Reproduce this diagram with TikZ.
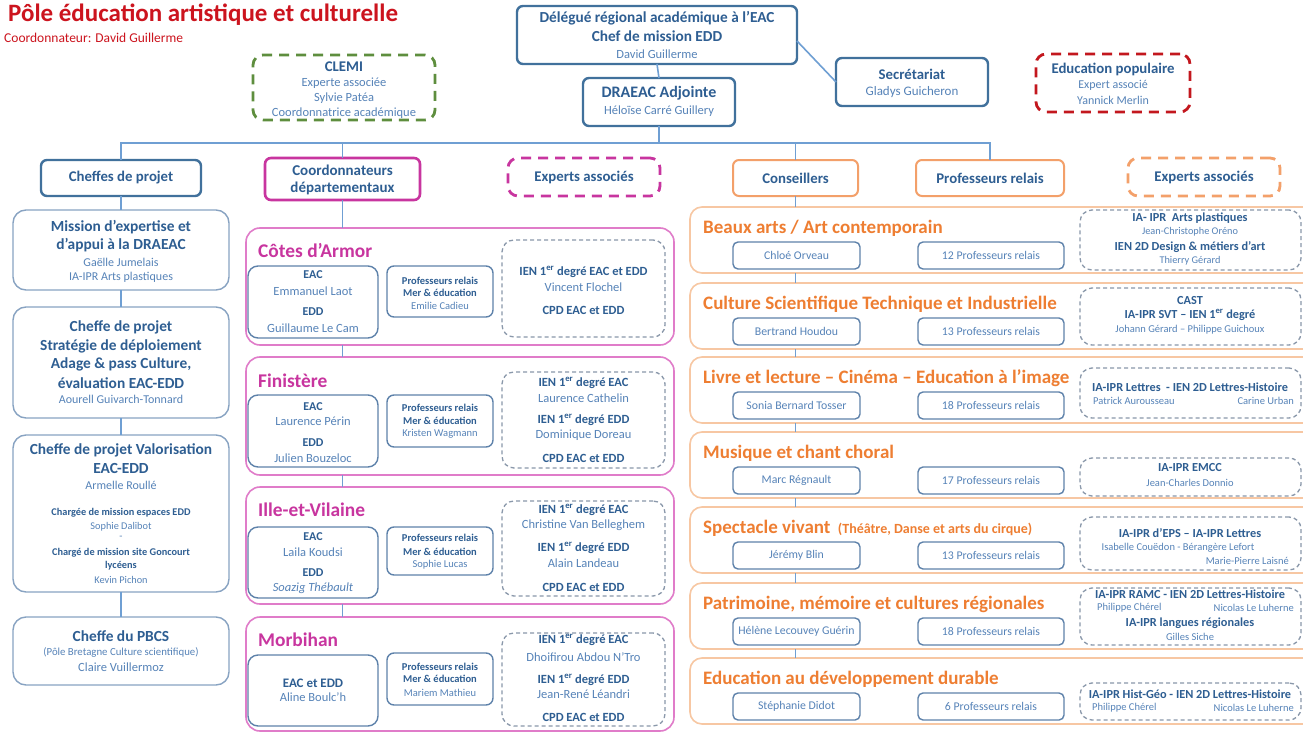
\documentclass[tikz,border=0pt]{standalone}
\usepackage{fontspec}
\setmainfont{Carlito}
\definecolor{tred}{HTML}{CC141E}
\definecolor{tblue}{HTML}{2E5E92}
\definecolor{nblue}{HTML}{5683B8}
\definecolor{bdark}{HTML}{41719C}
\definecolor{bmid}{HTML}{5E82AA}
\definecolor{blight}{HTML}{88A3C2}
\definecolor{cline}{HTML}{6F9FD3}
\definecolor{mag}{HTML}{C8359F}
\definecolor{magl}{HTML}{E07CC9}
\definecolor{oran}{HTML}{EE7E32}
\definecolor{oranh}{HTML}{F3A06A}
\definecolor{oranl}{HTML}{F7C7A3}
\definecolor{gdash}{HTML}{5E8E3E}
\definecolor{rdash}{HTML}{C3171E}
\definecolor{dgray}{HTML}{8A98AA}
\newcommand\fs[1]{\fontsize{#1}{#1}\selectfont}
\newcounter{tn}
\newcommand\T[3]{\stepcounter{tn}\node[inner sep=0pt,#1] (t\arabic{tn}) at (#2) {#3};}
\newcommand\bx[6]{\node[#2, anchor=north west, outer sep=0pt, inner sep=0pt, minimum width={(#5)-(#3)}, minimum height={(#6)-(#4)}] (#1) at (#3,#4) {};}
\newcommand\rsec[5]{%
 \bx{#1}{osec}{690}{#2}{1318}{#2+66}
 \T{ot}{703,#2+21}{#3}
 \bx{#1p}{nbox}{733}{#2+35}{860}{#2+62}
 \T{tn=11.8}{796.5,#2+48.5}{#4}
 \bx{#1r}{nbox}{918}{#2+35}{1064}{#2+62}
 \T{tn=11.8}{991,#2+48.5}{#5}
}
\newcommand\er{\textsuperscript{er}}
\begin{document}
\begin{tikzpicture}[x=1pt,y=-1pt,
 tb/.style={font={\fs{#1}\bfseries},text=tblue},
 tn/.style={font={\fs{#1}},text=nblue},
 hdr/.style={draw=bdark, line width=2.4pt, rounded corners=6pt, fill=white},
 lbox/.style={draw=blight, line width=1.4pt, rounded corners=13pt, fill=white},
 maghdr/.style={draw=mag, line width=2.6pt, rounded corners=6pt},
 magsec/.style={draw=magl, line width=1.6pt, rounded corners=14pt},
 ibox/.style={draw=bmid, line width=1.4pt, rounded corners=10pt},
 pbox/.style={draw=bmid, line width=1.4pt, rounded corners=7pt},
 nbox/.style={draw=bmid, line width=1.4pt, rounded corners=5pt},
 gdsh/.style={draw=dgray, line width=1.3pt, dash pattern=on 4pt off 3pt, rounded corners=12pt},
 bigdash/.style={line width=2.8pt, dash pattern=on 10pt off 7pt, rounded corners=10pt},
 ohdr/.style={draw=oranh, line width=2pt, rounded corners=6pt},
 osec/.style={draw=oranl, line width=1.6pt, rounded corners=12pt},
 conn/.style={draw=cline, line width=1.6pt},
 mt/.style={font={\fs{19.4}\bfseries}, text=mag, anchor=west},
 ot/.style={font={\fs{19}\bfseries}, text=oran, anchor=west}]
\clip (0,0) rectangle (1303,733);
\fill[white] (0,0) rectangle (1303,733);
% ---------- title
\T{anchor=west, font={\fs{25}\bfseries}, text=tred}{8,15}{Pôle éducation artistique et culturelle}
\T{anchor=west, font={\fs{13.5}}, text=tred}{4,38}{Coordonnateur: David Guillerme}
% ---------- top
\bx{clemi}{bigdash, draw=gdash}{253}{55}{435}{120}
\T{tb=14.8}{344,67}{CLEMI}
\T{tn=12.5}{344,83}{Experte associée}
\T{tn=12.5}{344,98}{Sylvie Patéa}
\T{tn=12.5}{344,113}{Coordonnatrice académique}
\bx{dra}{hdr}{517}{6}{797}{64}
\T{tb=15.3}{657,18}{Délégué régional académique à l’EAC}
\T{tb=15.3}{657,36}{Chef de mission EDD}
\T{tn=12.5}{657,54}{David Guillerme}
\bx{adj}{hdr}{583}{78}{735}{126}
\T{tb=16}{659,93}{DRAEAC Adjointe}
\T{tn=12.5}{659,111}{Héloïse Carré Guillery}
\bx{sec}{hdr}{836}{58}{988}{106}
\T{tb=14.8}{912,74}{Secrétariat}
\T{tn=13}{912,92}{Gladys Guicheron}
\bx{edpop}{bigdash, draw=rdash}{1036}{54}{1190}{112}
\T{tb=14.8}{1113,69}{Education populaire}
\T{tn=12}{1113,85}{Expert associé}
\T{tn=12}{1113,100}{Yannick Merlin}
% ---------- headers
\coordinate (busy) at (0,143);
\bx{cp}{hdr}{41}{160}{201}{196}
\T{tb=14.8}{121,178}{Cheffes de projet}
\bx{coordh}{maghdr}{265}{158}{420}{200}
\T{tb=15}{342.5,170}{Coordonnateurs}
\T{tb=15}{342.5,188}{départementaux}
\bx{exph}{bigdash, draw=mag}{508}{158}{660}{196}
\T{tb=14.8}{584,177}{Experts associés}
\bx{consh}{ohdr}{733}{160}{858}{196}
\T{tb=14.8}{795.5,178}{Conseillers}
\bx{profh}{ohdr}{916}{160}{1064}{196}
\T{tb=14.8}{990,178}{Professeurs relais}
\bx{exph2}{bigdash, draw=oranh}{1128}{158}{1280}{196}
\T{tb=14.8}{1204,177}{Experts associés}
% ---------- left column
\bx{m1}{lbox}{13}{210}{229}{290}
\T{tb=15.4}{121,227}{Mission d’expertise et}
\T{tb=15.4}{121,245}{d’appui à la DRAEAC}
\T{tn=12}{121,262}{Gaëlle Jumelais}
\T{tn=12}{121,277}{IA-IPR Arts plastiques}
\bx{m2}{lbox}{13}{307}{229}{418}
\T{tb=15.4}{121,327}{Cheffe de projet}
\T{tb=15.4}{121,346}{Stratégie de déploiement}
\T{tb=15.4}{121,364}{Adage \& pass Culture,}
\T{tb=15.4}{121,383}{évaluation EAC-EDD}
\T{tn=12}{121,399}{Aourell Guivarch-Tonnard}
\bx{m3}{lbox}{13}{435}{229}{592}
\T{tb=15.4}{121,450}{Cheffe de projet Valorisation}
\T{tb=15.4}{121,468}{EAC-EDD}
\T{tn=12}{121,485}{Armelle Roullé}
\T{tb=10.3}{121,513}{Chargée de mission espaces EDD}
\T{tn=10.3}{121,527}{Sophie Dalibot}
\T{tn=10.3}{121,538}{-}
\T{tb=10.3}{121,553}{Chargé de mission site Goncourt}
\T{tb=10.3}{121,566}{lycéens}
\T{tn=10.3}{121,580}{Kevin Pichon}
\bx{m4}{lbox}{13}{617}{229}{685}
\T{tb=15.4}{121,636}{Cheffe du PBCS}
\T{tn=10.8}{121,652}{(Pôle Bretagne Culture scientifique)}
\T{tn=12.5}{121,667}{Claire Vuillermoz}
% ---------- middle column: Côtes d'Armor
\bx{d1}{magsec}{246}{228}{674}{345}
\T{mt}{258,251}{Côtes d’Armor}
\bx{d1e}{ibox}{248}{266}{378}{338}
\T{tb=12}{313,275}{EAC}
\T{tn=12.5}{313,291}{Emmanuel Laot}
\T{tb=12}{313,312}{EDD}
\T{tn=12.5}{313,328}{Guillaume Le Cam}
\bx{d1p}{pbox}{387}{266}{493}{317}
\T{tb=10.5}{440,281}{Professeurs relais}
\T{tb=10.5}{440,293}{Mer \& éducation}
\T{tn=10.5}{440,306}{Emilie Cadieu}
\bx{d1x}{gdsh}{502}{240}{665}{337}
\T{tb=12.5}{583.5,272}{IEN 1\er{} degré EAC et EDD}
\T{tn=12.5}{583.5,287}{Vincent Flochel}
\T{tb=12.5}{583.5,310}{CPD EAC et EDD}
% Finistère
\bx{d2}{magsec}{246}{357}{674}{475}
\T{mt}{258,381}{Finistère}
\bx{d2e}{ibox}{248}{395}{378}{467}
\T{tb=12}{313,407}{EAC}
\T{tn=12.5}{313,421}{Laurence Périn}
\T{tb=12}{313,443}{EDD}
\T{tn=12.5}{313,458}{Julien Bouzeloc}
\bx{d2p}{pbox}{387}{395}{493}{447}
\T{tb=10.5}{440,408}{Professeurs relais}
\T{tb=10.5}{440,421}{Mer \& éducation}
\T{tn=10.5}{440,434}{Kristen Wagmann}
\bx{d2x}{gdsh}{502}{372}{665}{468}
\T{tb=12.5}{583.5,383}{IEN 1\er{} degré EAC}
\T{tn=12.5}{583.5,398}{Laurence Cathelin}
\T{tb=12.5}{583.5,420}{IEN 1\er{} degré EDD}
\T{tn=12.5}{583.5,435}{Dominique Doreau}
\T{tb=12.5}{583.5,458}{CPD EAC et EDD}
% Ille-et-Vilaine
\bx{d3}{magsec}{246}{487}{674}{604}
\T{mt}{258,510}{Ille-et-Vilaine}
\bx{d3e}{ibox}{248}{527}{378}{598}
\T{tb=12}{313,537}{EAC}
\T{tn=12.5}{313,552}{Laila Koudsi}
\T{tb=12}{313,573}{EDD}
\T{tn=12.5}{313,588}{\itshape Soazig Thébault}
\bx{d3p}{pbox}{387}{527}{493}{575}
\T{tb=10.5}{440,538}{Professeurs relais}
\T{tb=10.5}{440,552}{Mer \& éducation}
\T{tn=10.5}{440,565}{Sophie Lucas}
\bx{d3x}{gdsh}{502}{501}{665}{596}
\T{tb=12.5}{583.5,510}{IEN 1\er{} degré EAC}
\T{tn=12.5}{583.5,525}{Christine Van Belleghem}
\T{tb=12.5}{583.5,548}{IEN 1\er{} degré EDD}
\T{tn=12.5}{583.5,563}{Alain Landeau}
\T{tb=12.5}{583.5,587}{CPD EAC et EDD}
% Morbihan
\bx{d4}{magsec}{246}{617}{674}{731}
\T{mt}{258,640}{Morbihan}
\bx{d4e}{ibox}{248}{655}{378}{726}
\T{tb=13}{313,683}{EAC et EDD}
\T{tn=12.5}{313,697}{Aline Boulc’h}
\bx{d4p}{pbox}{387}{653}{493}{705}
\T{tb=10.5}{440,667}{Professeurs relais}
\T{tb=10.5}{440,679}{Mer \& éducation}
\T{tn=10.5}{440,693}{Mariem Mathieu}
\bx{d4x}{gdsh}{502}{633}{665}{726}
\T{tb=12.5}{583.5,640}{IEN 1\er{} degré EAC}
\T{tn=12.5}{583.5,657}{Dhoifirou Abdou N’Tro}
\T{tb=12.5}{583.5,680}{IEN 1\er{} degré EDD}
\T{tn=12.5}{583.5,694}{Jean-René Léandri}
\T{tb=12.5}{583.5,717}{CPD EAC et EDD}
% ---------- right column
\rsec{s1}{207}{Beaux arts / Art contemporain}{Chloé Orveau}{12 Professeurs relais}
\rsec{s2}{283}{Culture Scientifique Technique et Industrielle}{Bertrand Houdou}{13 Professeurs relais}
\rsec{s3}{357}{Livre et lecture – Cinéma – Education à l’image}{Sonia Bernard Tosser}{18 Professeurs relais}
\rsec{s4}{432}{Musique et chant choral}{Marc Régnault}{17 Professeurs relais}
\rsec{s5}{507}{Spectacle vivant {\fs{14} (Théâtre, Danse et arts du cirque)}}{Jérémy Blin}{13 Professeurs relais}
\rsec{s6}{583}{Patrimoine, mémoire et cultures régionales}{Hélène Lecouvey Guérin}{18 Professeurs relais}
\rsec{s7}{658}{Education au développement durable}{Stéphanie Didot}{6 Professeurs relais}
% dashed experts boxes
\bx{x1}{gdsh}{1080}{210}{1301}{270}
\T{tb=12.3}{1190,218}{IA- IPR\ \ Arts plastiques}
\T{tn=10.3}{1190,232}{Jean-Christophe Oréno}
\T{tb=12.3}{1190,247}{IEN 2D Design \& métiers d’art}
\T{tn=10.3}{1190,261}{Thierry Gérard}
\bx{x2}{gdsh}{1080}{288}{1301}{345}
\T{tb=12.3}{1190,301}{CAST}
\T{tb=12.3}{1190,315}{IA-IPR SVT – IEN 1\er{} degré}
\T{tn=10.5}{1190,330}{Johann Gérard – Philippe Guichoux}
\bx{x3}{gdsh}{1080}{368}{1301}{418}
\T{tb=12.3}{1190,387}{IA-IPR Lettres\ \ - IEN 2D Lettres-Histoire}
\T{tn=10.5, anchor=west}{1093,401}{Patrick Aurousseau}
\T{tn=10.5, anchor=east}{1294,401}{Carine Urban}
\bx{x4}{gdsh}{1080}{458}{1301}{496}
\T{tb=12.3}{1190,468}{IA-IPR EMCC}
\T{tn=10.5}{1190,483}{Jean-Charles Donnio}
\bx{x5}{gdsh}{1080}{517}{1301}{570}
\T{tb=12.3}{1190,533}{IA-IPR d’EPS – IA-IPR Lettres}
\T{tn=10.5}{1178,548}{Isabelle Couëdon - Bérangère Lefort}
\T{tn=10.5, anchor=east}{1289,561}{Marie-Pierre Laisné}
\bx{x6}{gdsh}{1080}{588}{1301}{645}
\T{tb=12.3}{1190,594}{IA-IPR RAMC - IEN 2D Lettres-Histoire}
\T{tn=10.5, anchor=west}{1097,608}{Philippe Chérel}
\T{tn=10.5, anchor=east}{1294,608}{Nicolas Le Luherne}
\T{tb=12.3}{1190,623}{IA-IPR langues régionales}
\T{tn=10.5}{1190,637}{Gilles Siche}
\bx{x7}{gdsh}{1080}{683}{1301}{720}
\T{tb=12.3}{1190,694}{IA-IPR Hist-Géo - IEN 2D Lettres-Histoire}
\T{tn=10.5, anchor=west}{1092,708}{Philippe Chérel}
\T{tn=10.5, anchor=east}{1294,708}{Nicolas Le Luherne}
% ---------- connectors
\draw[conn] (dra.south) -- (adj.north);
\draw[conn] ([yshift=-6pt]dra.east) -- (sec.west);
\draw[conn] (adj.south) -- (adj.south |- busy);
\draw[conn] (cp.north) -- (cp.north |- busy) -- (profh.north |- busy) -- (profh.north);
\draw[conn] (coordh.north) -- (coordh.north |- busy);
\draw[conn] (consh.north) -- (consh.north |- busy);
\draw[conn] (cp.south) -- (m1.north -| cp.south);
\draw[conn] (m1.south -| cp.south) -- (m2.north -| cp.south);
\draw[conn] (m2.south -| cp.south) -- (m3.north -| cp.south);
\draw[conn] (m3.south -| cp.south) -- (m4.north -| cp.south);
\draw[conn] (coordh.south) -- (d1.north -| coordh.south);
\draw[conn] (d1.south -| coordh.south) -- (d2.north -| coordh.south);
\draw[conn] (d2.south -| coordh.south) -- (d3.north -| coordh.south);
\draw[conn] (d3.south -| coordh.south) -- (d4.north -| coordh.south);
\draw[conn] (consh.south) -- (s1.north -| consh.south);
\draw[conn] (s1.south -| consh.south) -- (s2.north -| consh.south);
\draw[conn] (s2.south -| consh.south) -- (s3.north -| consh.south);
\draw[conn] (s3.south -| consh.south) -- (s4.north -| consh.south);
\draw[conn] (s4.south -| consh.south) -- (s5.north -| consh.south);
\draw[conn] (s5.south -| consh.south) -- (s6.north -| consh.south);
\draw[conn] (s6.south -| consh.south) -- (s7.north -| consh.south);
\end{tikzpicture}
\end{document}
